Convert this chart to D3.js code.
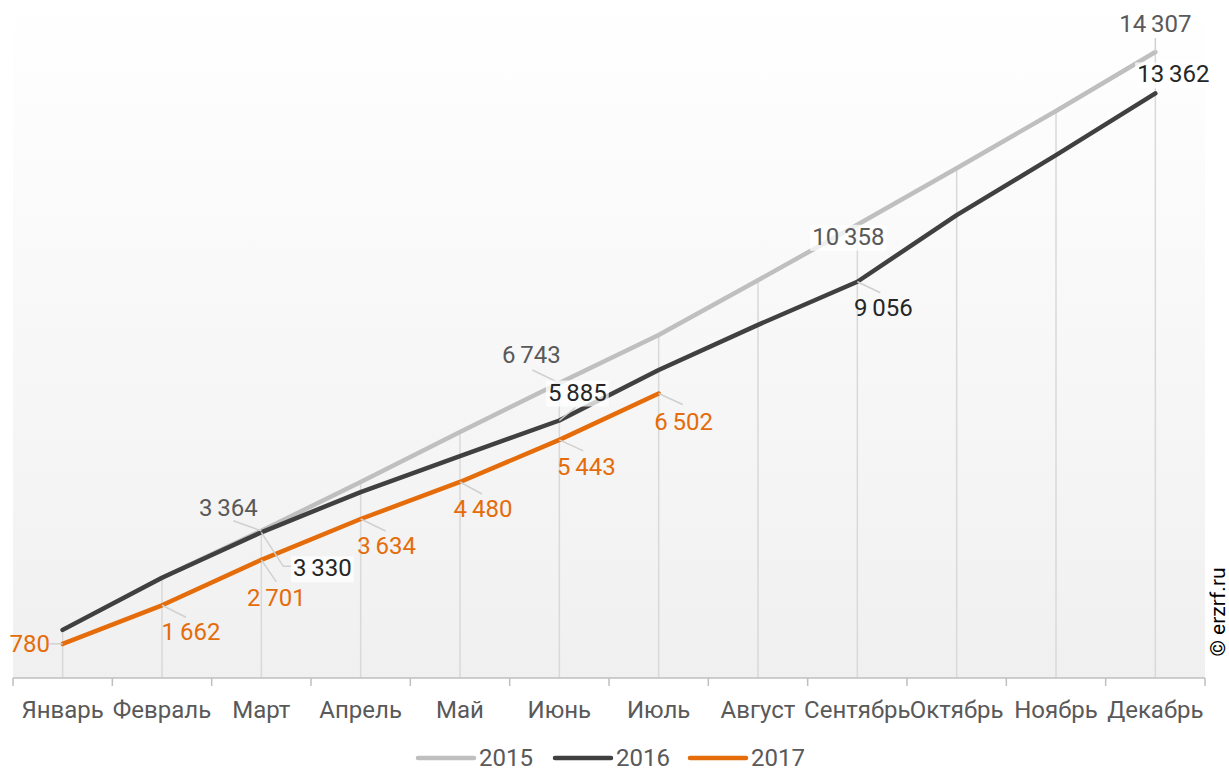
<!DOCTYPE html>
<html>
<head>
<meta charset="utf-8">
<script src="https://cdnjs.cloudflare.com/ajax/libs/d3/7.8.5/d3.min.js"></script>
<style>
  body { margin: 0; background: #fff; }
  svg { display: block; }
  text { font-family: Roboto, "Noto Sans", sans-serif; }
</style>
</head>
<body>
<div class="chart"></div>
<script>
var months = ["Январь", "Февраль", "Март", "Апрель", "Май", "Июнь", "Июль",
              "Август", "Сентябрь", "Октябрь", "Ноябрь", "Декабрь"];
var years = ["2015", "2016", "2017"];
var values2015 = [1100, 2290, 3364, 4480, 5620, 6743, 7840, 9090, 10358, 11650, 12960, 14307];
var values2016 = [1100, 2290, 3330, 4250, 5070, 5885, 7040, 8070, 9056, 10580, 11950, 13362];
var values2017 = [780, 1662, 2701, 3634, 4480, 5443, 6502];
// which points carry a value label
var labelled2015 = [2, 5, 8, 11];
var labelled2016 = [2, 5, 8, 11];
var labelled2017 = [0, 1, 2, 3, 4, 5, 6];

var width = 1229, height = 771;
var plotLeft = 13, plotRight = 1205, plotTop = 52, plotBottom = 678;

var colors = {"2015": "#bfbfbf", "2016": "#404040", "2017": "#e46c0a"};
var textColors = {"2015": "#595959", "2016": "#262626", "2017": "#e46c0a"};

// label placement (offset of the label centre from its point, leader end)
var labelPos = {
  "2015": {2: {dx: -33, dy: -23, lx: -28, ly: -10}, 5: {dx: -28, dy: -28, lx: -27, ly: -13},
           8: {dx: -9, dy: 12, box: true}, 11: {dx: 0, dy: -28, lx: 0, ly: -14}},
  "2016": {2: {dx: 61, dy: 36, poly: [[22, 34], [31, 34]], box: true}, 5: {dx: 18, dy: -28, lx: 16, ly: -13, box: true},
           8: {dx: 26, dy: 26, lx: 23, ly: 11}, 11: {dx: 18, dy: -19, box: true}},
  "2017": {0: {dx: -33, dy: 0, lx: -13, ly: 0}, 1: {dx: 29, dy: 27, lx: 24, ly: 12}, 2: {dx: 15, dy: 38, lx: 15, ly: 22},
           3: {dx: 26, dy: 27, lx: 25, ly: 12}, 4: {dx: 23, dy: 27, lx: 22, ly: 12},
           5: {dx: 27, dy: 27, lx: 24, ly: 11}, 6: {dx: 25, dy: 28, lx: 24, ly: 11}}
};

var series = [
  {name: "2015", values: values2015, labelled: labelled2015},
  {name: "2016", values: values2016, labelled: labelled2016},
  {name: "2017", values: values2017, labelled: labelled2017}
];

var svg = d3.select(".chart").append("svg")
    .attr("width", width)
    .attr("height", height);

var grad = svg.append("defs").append("linearGradient")
    .attr("id", "bg")
    .attr("x1", 0).attr("y1", 0).attr("x2", 0).attr("y2", 1);
grad.append("stop").attr("offset", "0%").attr("stop-color", "#ffffff");
grad.append("stop").attr("offset", "100%").attr("stop-color", "#f0f0f0");

svg.append("rect")
    .attr("x", plotLeft).attr("y", 0)
    .attr("width", plotRight - plotLeft).attr("height", plotBottom)
    .attr("fill", "url(#bg)");

var x = d3.scaleBand().domain(months).range([plotLeft, plotRight]);
var y = d3.scaleLinear().domain([0, 14307]).range([plotBottom, plotTop]);
var cx = function(i) { return x(months[i]) + x.bandwidth() / 2; };

// drop lines from the highest point of each month
svg.append("g").selectAll("line")
  .data(months)
  .enter().append("line")
    .attr("x1", function(d, i) { return cx(i); })
    .attr("x2", function(d, i) { return cx(i); })
    .attr("y1", function(d, i) {
        var m = d3.max(series, function(s) { return s.values[i]; });
        return y(m);
    })
    .attr("y2", plotBottom)
    .attr("stroke", "#d9d9d9")
    .attr("stroke-width", 1.5);

// x axis
var xAxis = svg.append("g")
    .attr("transform", "translate(0," + plotBottom + ")");
xAxis.append("line")
    .attr("x1", plotLeft).attr("x2", plotRight)
    .attr("stroke", "#bfbfbf").attr("stroke-width", 1.5);
xAxis.selectAll(".tk")
  .data(months.concat([null]))
  .enter().append("line")
    .attr("x1", function(d, i) { return plotLeft + i * x.bandwidth(); })
    .attr("x2", function(d, i) { return plotLeft + i * x.bandwidth(); })
    .attr("y1", 0).attr("y2", 8)
    .attr("stroke", "#bfbfbf").attr("stroke-width", 1.5);
xAxis.selectAll(".lbl")
  .data(months)
  .enter().append("text")
    .attr("x", function(d, i) { return cx(i); })
    .attr("y", 40)
    .attr("text-anchor", "middle")
    .attr("font-size", 24)
    .attr("fill", "#595959")
    .text(function(d) { return d; });

// lines
var line = d3.line()
    .x(function(d, i) { return cx(i); })
    .y(function(d) { return y(d); });

svg.append("g").selectAll("path")
  .data(series)
  .enter().append("path")
    .attr("d", function(d) { return line(d.values); })
    .attr("fill", "none")
    .attr("stroke", function(d) { return colors[d.name]; })
    .attr("stroke-width", 4.5)
    .attr("stroke-linecap", "round")
    .attr("stroke-linejoin", "round");

// value labels
var fmt = function(v) { return d3.format(",")(v).replace(/,/g, "\u2009"); };
var labels = svg.append("g");
series.forEach(function(s) {
  s.labelled.forEach(function(i) {
    var p = labelPos[s.name][i];
    var px = cx(i), py = y(s.values[i]);
    if (p.poly) {
      var pts = [[px, py]].concat(p.poly.map(function(q) { return [px + q[0], py + q[1]]; }));
      labels.append("path")
        .attr("d", d3.line()(pts))
        .attr("fill", "none").attr("stroke", "#d0d0d0").attr("stroke-width", 1.5);
    } else if (p.lx !== undefined) {
      labels.append("line")
        .attr("x1", px).attr("y1", py)
        .attr("x2", px + p.lx).attr("y2", py + p.ly)
        .attr("stroke", "#d0d0d0").attr("stroke-width", 1.5);
    }
    var t = labels.append("text")
      .attr("x", px + p.dx).attr("y", py + p.dy)
      .attr("text-anchor", "middle")
      .attr("dominant-baseline", "central")
      .attr("font-size", 24)
      .attr("fill", textColors[s.name])
      .text(fmt(s.values[i]));
    if (p.box) {
      var b = t.node().getBBox();
      labels.insert("rect", function() { return t.node(); })
        .attr("x", b.x - 2).attr("y", b.y + 2)
        .attr("width", b.width + 4).attr("height", b.height - 2)
        .attr("fill", "#ffffff").attr("fill-opacity", 0.75);
    }
  });
});

// legend
var legend = svg.append("g").attr("transform", "translate(0,758)");
var legendX = [418, 555, 690];
years.forEach(function(yr, k) {
  legend.append("line")
    .attr("x1", legendX[k]).attr("x2", legendX[k] + 56)
    .attr("stroke", colors[yr]).attr("stroke-width", 4.5)
    .attr("stroke-linecap", "round");
  legend.append("text")
    .attr("x", legendX[k] + 61).attr("y", 0)
    .attr("dominant-baseline", "central")
    .attr("font-size", 24)
    .attr("fill", "#595959")
    .text(yr);
});

// copyright
svg.append("text")
  .attr("transform", "translate(1225,612) rotate(-90)")
  .attr("text-anchor", "middle")
  .attr("font-family", "Liberation Sans, Arial, sans-serif")
  .attr("font-size", 21)
  .attr("fill", "#000")
  .text("© erzrf.ru");
</script>
</body>
</html>
